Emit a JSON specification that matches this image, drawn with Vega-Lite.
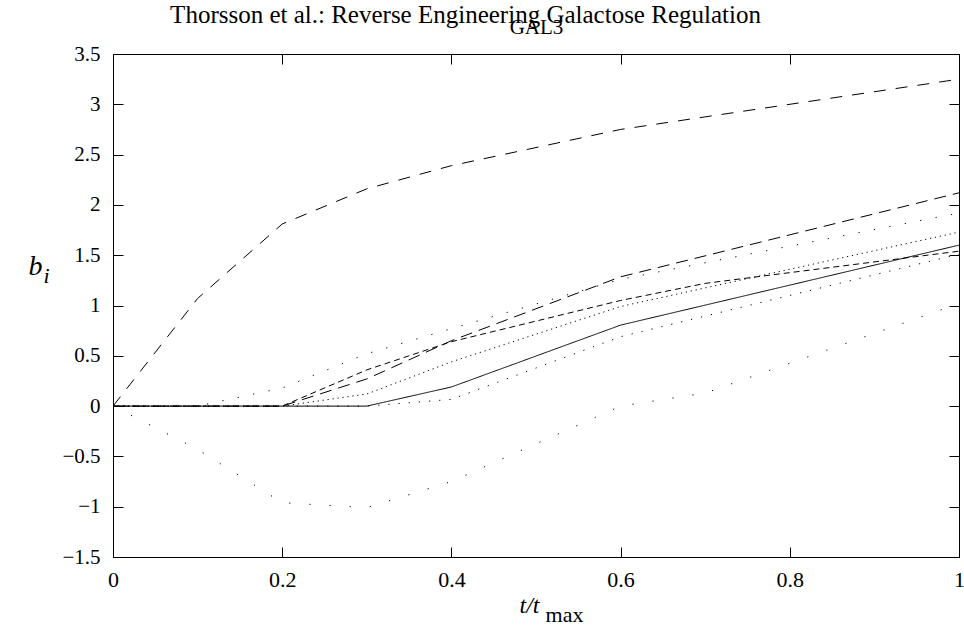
{
  "$schema": "https://vega.github.io/schema/vega-lite/v6.json",
  "width": 846,
  "height": 503,
  "autosize": {"type": "none"},
  "padding": {"left": 113, "top": 54, "right": 5, "bottom": 73},
  "background": "white",
  "config": {
    "font": "Liberation Serif",
    "view": {"stroke": "black", "strokeWidth": 1},
    "axis": {"grid": false, "domain": false, "labelFont": "Liberation Serif", "titleFont": "Liberation Serif", "labelColor": "black", "titleColor": "black", "tickColor": "black", "tickWidth": 1, "labelFlush": false, "labelOverlap": false}
  },
  "data": {
    "values": [
      {"s": "A", "t": 0, "v": 0}, {"s": "A", "t": 0.1, "v": 1.07}, {"s": "A", "t": 0.2, "v": 1.81}, {"s": "A", "t": 0.3, "v": 2.16}, {"s": "A", "t": 0.4, "v": 2.39}, {"s": "A", "t": 0.6, "v": 2.75}, {"s": "A", "t": 1, "v": 3.25},
      {"s": "B", "t": 0, "v": 0}, {"s": "B", "t": 0.1, "v": 0}, {"s": "B", "t": 0.2, "v": 0}, {"s": "B", "t": 0.3, "v": 0.27}, {"s": "B", "t": 0.4, "v": 0.65}, {"s": "B", "t": 0.6, "v": 1.285}, {"s": "B", "t": 1, "v": 2.12},
      {"s": "C", "t": 0, "v": 0}, {"s": "C", "t": 0.1, "v": 0}, {"s": "C", "t": 0.2, "v": 0}, {"s": "C", "t": 0.3, "v": 0.36}, {"s": "C", "t": 0.4, "v": 0.64}, {"s": "C", "t": 0.6, "v": 1.05}, {"s": "C", "t": 0.7, "v": 1.22}, {"s": "C", "t": 1, "v": 1.54},
      {"s": "D", "t": 0, "v": 0}, {"s": "D", "t": 0.1, "v": 0}, {"s": "D", "t": 0.2, "v": 0}, {"s": "D", "t": 0.3, "v": 0.12}, {"s": "D", "t": 0.4, "v": 0.44}, {"s": "D", "t": 0.6, "v": 0.99}, {"s": "D", "t": 1, "v": 1.73},
      {"s": "E", "t": 0, "v": 0}, {"s": "E", "t": 0.1, "v": 0}, {"s": "E", "t": 0.2, "v": 0.18}, {"s": "E", "t": 0.3, "v": 0.52}, {"s": "E", "t": 0.4, "v": 0.77}, {"s": "E", "t": 0.6, "v": 1.26}, {"s": "E", "t": 1, "v": 1.92},
      {"s": "F", "t": 0, "v": 0}, {"s": "F", "t": 0.1, "v": 0}, {"s": "F", "t": 0.2, "v": 0}, {"s": "F", "t": 0.3, "v": 0}, {"s": "F", "t": 0.4, "v": 0.067}, {"s": "F", "t": 0.6, "v": 0.69}, {"s": "F", "t": 1, "v": 1.51},
      {"s": "G", "t": 0, "v": 0}, {"s": "G", "t": 0.1, "v": -0.43}, {"s": "G", "t": 0.2, "v": -0.96}, {"s": "G", "t": 0.3, "v": -1.01}, {"s": "G", "t": 0.4, "v": -0.75}, {"s": "G", "t": 0.6, "v": 0.0}, {"s": "G", "t": 0.7, "v": 0.13}, {"s": "G", "t": 1, "v": 1.02},
      {"s": "H", "t": 0, "v": 0}, {"s": "H", "t": 0.1, "v": 0}, {"s": "H", "t": 0.2, "v": 0}, {"s": "H", "t": 0.3, "v": 0}, {"s": "H", "t": 0.4, "v": 0.19}, {"s": "H", "t": 0.6, "v": 0.805}, {"s": "H", "t": 1, "v": 1.6}
    ]
  },
  "resolve": {"axis": {"x": "independent", "y": "independent"}},
  "layer": [
    {
      "mark": {"type": "line", "color": "black", "strokeWidth": 1, "strokeCap": "butt", "clip": true},
      "encoding": {
        "x": {"field": "t", "type": "quantitative", "scale": {"domain": [0, 1], "nice": false, "zero": false},
          "axis": {"orient": "bottom", "values": [0, 0.2, 0.4, 0.6, 0.8, 1], "format": "~g", "tickSize": -10, "labelPadding": 22, "labelFont": "Liberation Serif", "labelFontSize": 22,
            "title": "t/t", "titleFont": "Liberation Serif", "titleFontStyle": "italic", "titleFontWeight": "normal", "titleFontSize": 24, "titleAlign": "center", "titleBaseline": "alphabetic", "titleX": 416, "titleY": 55, "titleAngle": 0}},
        "y": {"field": "v", "type": "quantitative", "scale": {"domain": [-1.5, 3.5], "nice": false, "zero": false},
          "axis": {"orient": "left", "values": [-1.5, -1, -0.5, 0, 0.5, 1, 1.5, 2, 2.5, 3, 3.5], "format": "~g", "tickSize": -10, "labelPadding": 23, "labelFont": "Liberation Serif", "labelFontSize": 21,
            "title": "b", "titleFont": "Liberation Serif", "titleFontStyle": "italic", "titleFontWeight": "normal", "titleFontSize": 28, "titleAlign": "center", "titleBaseline": "alphabetic", "titleX": -78, "titleY": 220, "titleAngle": 0}},
        "detail": {"field": "s"},
        "strokeDash": {"field": "s", "type": "nominal", "legend": null,
          "scale": {"domain": ["A", "B", "C", "D", "E", "F", "G", "H"],
            "range": [[12, 10], [12, 7], [6, 4], [1.2, 3.8], [1.2, 14.5], [1.2, 9], [1.2, 19], [1, 0]]}}
      }
    },
    {
      "mark": {"type": "line", "strokeOpacity": 0},
      "encoding": {
        "x": {"field": "t", "type": "quantitative", "scale": {"domain": [0, 1], "nice": false, "zero": false},
          "axis": {"orient": "top", "values": [0, 0.2, 0.4, 0.6, 0.8, 1], "labels": false, "tickSize": -10,
            "title": "Thorsson et al.: Reverse Engineering Galactose Regulation", "titleFont": "Liberation Serif", "titleFontWeight": "normal", "titleFontSize": 25, "titleAlign": "center", "titleBaseline": "alphabetic", "titleX": 352, "titleY": -32, "titleAngle": 0}},
        "y": {"field": "v", "type": "quantitative", "scale": {"domain": [-1.5, 3.5], "nice": false, "zero": false},
          "axis": {"orient": "right", "values": [-1.5, -1, -0.5, 0, 0.5, 1, 1.5, 2, 2.5, 3, 3.5], "labels": false, "tickSize": -10,
            "title": "i", "titleFont": "Liberation Serif", "titleFontStyle": "italic", "titleFontWeight": "normal", "titleFontSize": 22, "titleAlign": "center", "titleBaseline": "alphabetic", "titleX": -913, "titleY": 228, "titleAngle": 0}},
        "detail": {"field": "s"}
      }
    },
    {
      "mark": {"type": "line", "strokeOpacity": 0},
      "encoding": {
        "x": {"field": "t", "type": "quantitative", "scale": {"domain": [0, 1], "nice": false, "zero": false},
          "axis": {"orient": "top", "ticks": false, "labels": false,
            "title": "GAL3", "titleFont": "Liberation Serif", "titleFontWeight": "normal", "titleFontSize": 21, "titleAlign": "center", "titleBaseline": "alphabetic", "titleX": 423, "titleY": -21, "titleAngle": 0}},
        "y": {"field": "v", "type": "quantitative", "scale": {"domain": [-1.5, 3.5], "nice": false, "zero": false},
          "axis": {"orient": "right", "ticks": false, "labels": false,
            "title": "max", "titleFont": "Liberation Serif", "titleFontWeight": "normal", "titleFontSize": 22, "titleAlign": "center", "titleBaseline": "alphabetic", "titleX": -395, "titleY": 567, "titleAngle": 0}},
        "detail": {"field": "s"}
      }
    }
  ]
}
